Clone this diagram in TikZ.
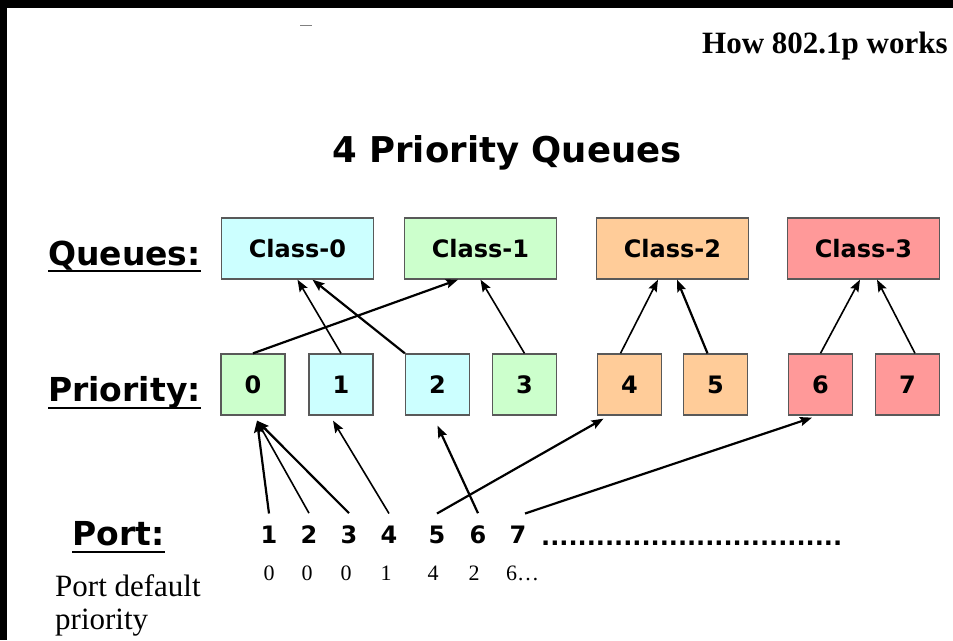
\documentclass[tikz,border=0pt]{standalone}
\usepackage{fontspec}
\setmainfont{Liberation Serif}
\newfontfamily\verd{DejaVu Sans}
\usepackage{tikz}
\usetikzlibrary{arrows.meta,positioning}
\definecolor{qcyan}{RGB}{204,255,255}
\definecolor{qgreen}{RGB}{204,255,204}
\definecolor{qorange}{RGB}{255,204,153}
\definecolor{qred}{RGB}{255,153,153}

\begin{document}
\begin{tikzpicture}[
    x=1pt, y=-1pt,
    cls/.style={draw=black!65, line width=1.3pt, minimum width=152pt, minimum height=61pt, inner sep=0pt, font=\verd\bfseries\fontsize{24}{28}\selectfont},
    prio/.style={cls, minimum width=64pt},
    lbl/.style={anchor=base west, inner sep=0pt, font=\verd\bfseries\fontsize{33}{40}\selectfont},
    pnum/.style={anchor=base, inner sep=0pt, outer ysep=12pt, font=\verd\bfseries\fontsize{24}{28}\selectfont},
    pdef/.style={anchor=base, inner sep=0pt, font=\fontsize{22}{26}\selectfont},
    arr/.style={-{Stealth[length=12pt,width=9pt,inset=2pt]}, line width=1.6pt},
    arrb/.style={arr, line width=2.2pt},
    uline/.style={line width=2pt}
]
\useasboundingbox (0,0) rectangle (953,640);
\fill[white] (0,0) rectangle (953,640);
% --- frame ---
\fill[black] (0,0) rectangle (953,8);
\fill[black] (0,0) rectangle (7,640);
\draw[gray, line width=1pt] (300,25) -- (312,25);

% --- titles ---
\node[anchor=base west, inner sep=0pt, font=\bfseries\fontsize{31}{36}\selectfont] (hdr) at (702,53) {How 802.1p works};
\node[anchor=base, inner sep=0pt, font=\verd\bfseries\fontsize{35.5}{42}\selectfont] (ttl) at (507,162) {4 Priority Queues};

% --- row labels ---
\node[lbl] (lq) at (48,265) {Queues:};
\node[lbl] (lp) at (48,401) {Priority:};
\node[lbl] (lo) at (72,545) {Port:};
\draw[uline] ([yshift=-6pt]lq.base west) -- ([yshift=-6pt]lq.base east);
\draw[uline] ([yshift=-7pt]lp.base west) -- ([yshift=-7pt]lp.base east);
\draw[uline] ([yshift=-7pt]lo.base west) -- ([yshift=-7pt]lo.base east);
\node[anchor=north west, inner sep=0pt, align=left, font=\fontsize{31}{33}\selectfont] (ldef) at (55,574) {Port default\\priority};

% --- queues ---
\node[cls, fill=qcyan] (c0) at (297.5,248.5) {Class-0};
\node[cls, fill=qgreen] (c1) at (480.5,248.5) {Class-1};
\node[cls, fill=qorange] (c2) at (672.5,248.5) {Class-2};
\node[cls, fill=qred] (c3) at (863.5,248.5) {Class-3};

% --- priorities ---
\node[prio, fill=qgreen] (p0) at (253,384.5) {0};
\node[prio, fill=qcyan] (p1) at (341,384.5) {1};
\node[prio, fill=qcyan] (p2) at (437.5,384.5) {2};
\node[prio, fill=qgreen] (p3) at (524.5,384.5) {3};
\node[prio, fill=qorange] (p4) at (629.5,384.5) {4};
\node[prio, fill=qorange] (p5) at (715.5,384.5) {5};
\node[prio, fill=qred] (p6) at (820.5,384.5) {6};
\node[prio, fill=qred] (p7) at (907.5,384.5) {7};

% --- ports ---
\node[pnum] (pn1) at (269,543) {1};
\node[pnum] (pn2) at (309,543) {2};
\node[pnum] (pn3) at (349,543) {3};
\node[pnum] (pn4) at (389,543) {4};
\node[pnum] (pn5) at (437,543) {5};
\node[pnum] (pn6) at (478,543) {6};
\node[pnum] (pn7) at (518,543) {7};
\node[anchor=base west, inner sep=0pt, font=\verd\bfseries\fontsize{24}{28}\selectfont] (dots) at (541,545) {.................................};

\node[pdef] (d1) at (269,580) {0};
\node[pdef] (d2) at (307,580) {0};
\node[pdef] (d3) at (346,580) {0};
\node[pdef] (d4) at (386,580) {1};
\node[pdef] (d5) at (433,580) {4};
\node[pdef] (d6) at (474,580) {2};
\node[pdef, anchor=base west] (d7) at (506,580) {6…};

% --- priority to queue ---
\draw[arrb] (p0.north) -- ([xshift=-22.5pt]c1.south);
\draw[arr] (p1.north) -- (c0.south);
\draw[arrb] (p2.north west) -- ([xshift=15pt]c0.south);
\draw[arr] (p3.north) -- (c1.south);
\draw[arr] ([xshift=-9pt]p4.north) -- ([xshift=-14.5pt]c2.south);
\draw[arrb] ([xshift=-8pt]p5.north) -- ([xshift=4.5pt]c2.south);
\draw[arr] (p6.north) -- ([xshift=-3.5pt]c3.south);
\draw[arr] ([xshift=7.5pt]p7.north) -- ([xshift=13.5pt]c3.south);

% --- port to priority ---
\draw[arrb] (pn1.north) -- ([xshift=4pt,yshift=-5pt]p0.south);
\draw[arr] (pn2.north) -- ([xshift=4pt,yshift=-5pt]p0.south);
\draw[arrb] (pn3.north) -- ([xshift=4pt,yshift=-5pt]p0.south);
\draw[arr] (pn4.north) -- ([xshift=-8pt,yshift=-5pt]p1.south);
\draw[arrb] (pn5.north) -- ([xshift=-26pt,yshift=-3pt]p4.south);
\draw[arrb] (pn6.north) -- ([yshift=-10pt]p2.south);
\draw[arrb] ([xshift=7pt]pn7.north) -- ([xshift=-8.5pt,yshift=-2pt]p6.south);
\end{tikzpicture}
\end{document}
